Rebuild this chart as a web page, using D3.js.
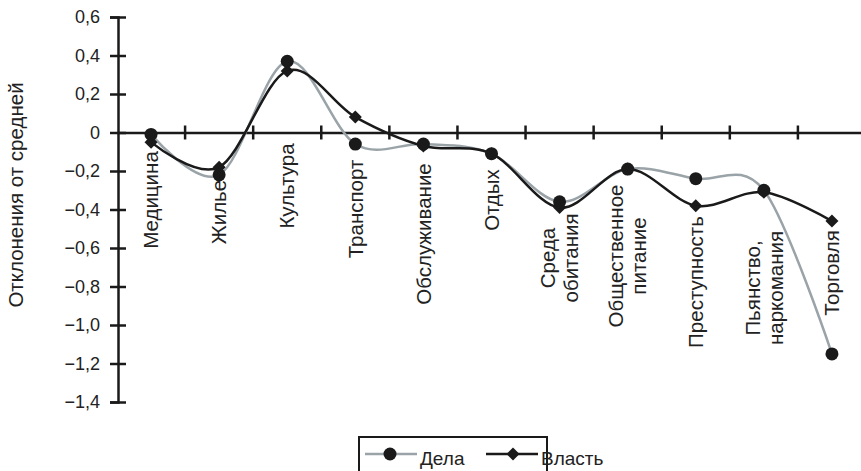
<!DOCTYPE html>
<html>
<head>
<meta charset="utf-8">
<script src="https://cdn.jsdelivr.net/npm/d3@7/dist/d3.min.js"></script>
<style>
  html, body { margin: 0; padding: 0; background: #fff; }
  svg { display: block; font-family: "Liberation Sans", Arial, sans-serif; }
</style>
</head>
<body>
<svg id="chart" width="861" height="471"></svg>
<script>
// ---- data ----
const categories = [
  ["Медицина"], ["Жилье"], ["Культура"], ["Транспорт"], ["Обслуживание"], ["Отдых"],
  ["Среда", "обитания"], ["Общественное", "питание"], ["Преступность"],
  ["Пьянство,", "наркомания"], ["Торговля"]
];
const seriesNames = ["Дела", "Власть"];
const delaValues   = [-0.01, -0.22, 0.37, -0.06, -0.06, -0.11, -0.36, -0.19, -0.24, -0.30, -1.15];
const vlastValues  = [-0.05, -0.18, 0.32,  0.08, -0.07, -0.11, -0.39, -0.19, -0.38, -0.31, -0.46];
const yTickValues  = [0.6, 0.4, 0.2, 0, -0.2, -0.4, -0.6, -0.8, -1.0, -1.2, -1.4];
const yTickLabels  = ["0,6", "0,4", "0,2", "0", "−0,2", "−0,4", "−0,6", "−0,8", "−1,0", "−1,2", "−1,4"];
const yTitle = "Отклонения от средней";

// ---- layout (label placement, px on screen) ----
const labelCenterY = [200, 212, 186, 209, 234, 200, 258, 256, 282, 288, 273];
const labelFont = 20.5;

const svg = d3.select("#chart");
const catKeys = categories.map(c => c.join(" "));

const x = d3.scaleBand().domain(catKeys).range([117, 866]).paddingInner(0).paddingOuter(0);
const y = d3.scaleLinear().domain([-1.4, 0.6]).range([402, 17]);
const cx = k => x(k) + x.bandwidth() / 2;

const axisColor = "#1a1a1a";

// y axis
const yAxis = d3.axisLeft(y).tickValues(yTickValues).tickSize(8).tickPadding(10)
  .tickFormat((d, i) => yTickLabels[i]);
const gy = svg.append("g").attr("transform", "translate(118,0)").call(yAxis);
gy.attr("font-family", null).attr("font-size", null);
gy.select(".domain").attr("stroke", axisColor).attr("stroke-width", 2.5);
gy.selectAll(".tick line").attr("x1", -8).attr("x2", 8).attr("stroke", axisColor).attr("stroke-width", 2.5);
gy.selectAll(".tick text").attr("font-size", 18).attr("fill", "#222").attr("x", -18);

// x axis at zero
const xAxis = d3.axisBottom(x).tickSize(0).tickFormat("");
const gx = svg.append("g").attr("transform", `translate(0,${y(0)})`).call(xAxis);
gx.select(".domain").attr("stroke", axisColor).attr("stroke-width", 2.5);
gx.selectAll(".tick").remove();
gx.selectAll(".btick").data(catKeys.slice(1).concat(["__end"])).enter().append("line")
  .attr("class", "btick")
  .attr("x1", d => d === "__end" ? x.range()[1] : x(d))
  .attr("x2", d => d === "__end" ? x.range()[1] : x(d))
  .attr("y1", -7).attr("y2", 7)
  .attr("stroke", axisColor).attr("stroke-width", 2.5);

// y title
svg.append("text")
  .attr("transform", "translate(23,195) rotate(-90)")
  .attr("text-anchor", "middle")
  .attr("font-size", labelFont).attr("fill", "#222")
  .text(yTitle);

// category labels
const lineH = 23;
categories.forEach((lines, i) => {
  const k = catKeys[i];
  const n = lines.length;
  const t = svg.append("text")
    .attr("transform", `translate(${cx(k)},${labelCenterY[i]}) rotate(-90)`)
    .attr("text-anchor", "middle")
    .attr("font-size", labelFont).attr("fill", "#222");
  lines.forEach((ln, j) => {
    t.append("tspan").attr("x", 0)
      .attr("y", (j - (n - 1) / 2) * lineH)
      .attr("dy", "0.35em")
      .text(ln);
  });
});

// lines
const line = d3.line().x((d, i) => cx(catKeys[i])).y(d => y(d)).curve(d3.curveCatmullRom.alpha(0));
svg.append("path").datum(delaValues).attr("d", line)
  .attr("fill", "none").attr("stroke", "#9aa3a8").attr("stroke-width", 2.5);
svg.append("path").datum(vlastValues).attr("d", line)
  .attr("fill", "none").attr("stroke", "#1a1a1a").attr("stroke-width", 2.5);

// markers
const diamond = d3.symbol().type(d3.symbolSquare).size(85);
svg.append("g").selectAll("path").data(vlastValues).enter().append("path")
  .attr("d", diamond)
  .attr("transform", (d, i) => `translate(${cx(catKeys[i])},${y(d)}) rotate(45)`)
  .attr("fill", "#1a1a1a");
svg.append("g").selectAll("circle").data(delaValues).enter().append("circle")
  .attr("cx", (d, i) => cx(catKeys[i])).attr("cy", d => y(d)).attr("r", 6.5)
  .attr("fill", "#1a1a1a");

// legend
const lg = svg.append("g");
lg.append("rect").attr("x", 359).attr("y", 437).attr("width", 188).attr("height", 50)
  .attr("fill", "#fff").attr("stroke", axisColor).attr("stroke-width", 2);
const legendItems = [
  { name: seriesNames[0], color: "#9aa3a8", marker: "circle", x0: 365 },
  { name: seriesNames[1], color: "#1a1a1a", marker: "diamond", x0: 486 }
];
legendItems.forEach(it => {
  lg.append("line").attr("x1", it.x0).attr("x2", it.x0 + 52).attr("y1", 454).attr("y2", 454)
    .attr("stroke", it.color).attr("stroke-width", 2.5);
  if (it.marker === "circle") {
    lg.append("circle").attr("cx", it.x0 + 25).attr("cy", 454).attr("r", 6.5).attr("fill", "#1a1a1a");
  } else {
    lg.append("path").attr("d", diamond)
      .attr("transform", `translate(${it.x0 + 27},454) rotate(45)`).attr("fill", "#1a1a1a");
  }
  lg.append("text").attr("x", it.x0 + 55).attr("y", 465)
    .attr("font-size", 19).attr("fill", "#222").text(it.name);
});
</script>
</body>
</html>
